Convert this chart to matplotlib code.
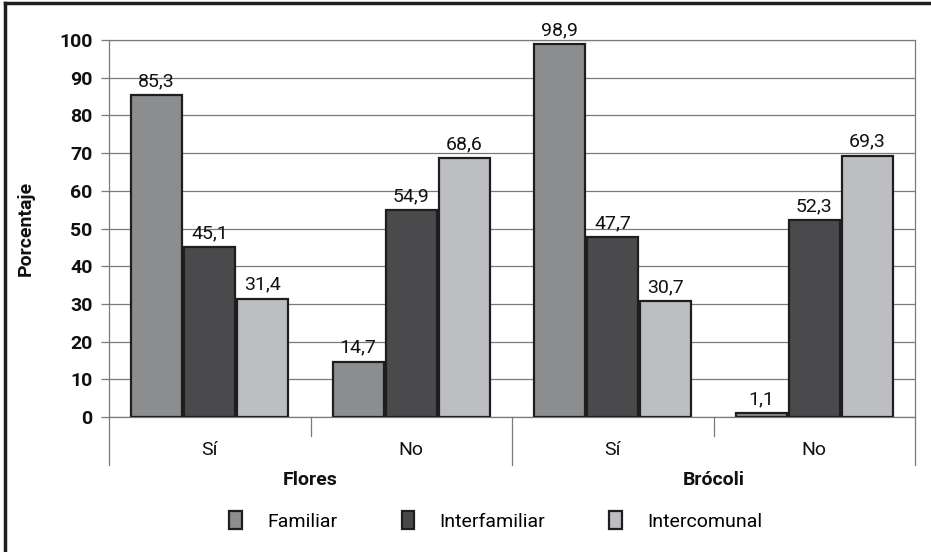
import matplotlib
matplotlib.use("Agg")
import matplotlib.pyplot as plt
from matplotlib.patches import Patch
from matplotlib.lines import Line2D
import numpy as np

subcats = ["Sí", "No", "Sí", "No"]
groups = ["Flores", "Brócoli"]
series = ["Familiar", "Interfamiliar", "Intercomunal"]
familiar = [85.3, 14.7, 98.9, 1.1]
interfamiliar = [45.1, 54.9, 47.7, 52.3]
intercomunal = [31.4, 68.6, 30.7, 69.3]
yticks = [0, 10, 20, 30, 40, 50, 60, 70, 80, 90, 100]

colors = ["#8c8d8f", "#4a4a4c", "#bdbec1"]
edge = "#1e1e1e"

plt.rcParams['font.family'] = ['Roboto', 'DejaVu Sans']

FS = 14
W, H = 931, 552
fig = plt.figure(figsize=(W / 100, H / 100), dpi=100)
ax = fig.add_axes([109 / W, 1 - 417 / H, (915 - 109) / W, (417 - 40) / H])

x = np.arange(len(subcats)) + 0.5
bw = 51 / 201
off = 53 / 201
for i, (vals, c) in enumerate(zip([familiar, interfamiliar, intercomunal], colors)):
    pos = x + (i - 1) * off
    ax.bar(pos, vals, width=bw, color=c, edgecolor=edge, linewidth=1.6, zorder=3)
    for px, v in zip(pos, vals):
        ax.text(px, v + 1.3, f"{v:.1f}".replace(".", ","), ha="center", va="bottom",
                fontsize=FS, color="#111111", zorder=4)

ax.set_xlim(0, len(subcats))
ax.set_ylim(0, 100)
ax.set_yticks(yticks)
ax.set_yticklabels([str(t) for t in yticks], fontsize=FS, fontweight="bold", color="#111111")
ax.yaxis.grid(True, color="#7a7a7a", linewidth=0.9, zorder=0)
ax.set_axisbelow(True)
ax.tick_params(axis="y", length=6, width=0.9, color="#7a7a7a", pad=6)
ax.set_xticks([])
for s in ["top", "right"]:
    ax.spines[s].set_visible(False)
ax.spines["left"].set_color("#7a7a7a")
ax.spines["left"].set_linewidth(0.9)
ax.spines["bottom"].set_color("#7a7a7a")
ax.spines["bottom"].set_linewidth(0.9)
ax.set_ylabel("Porcentaje", fontsize=FS, fontweight="bold", color="#111111")
ax.yaxis.set_label_coords(-0.092, 0.5)

ax.plot([4, 4], [0, 1], transform=ax.get_xaxis_transform(), color="#7a7a7a", lw=0.9, clip_on=False)
ax.plot([0, 4], [1, 1], transform=ax.get_xaxis_transform(), color="#7a7a7a", lw=0.9, clip_on=False)

trans = ax.get_xaxis_transform()
for xs in [0, 2, 4]:
    ax.plot([xs, xs], [0, -0.127], transform=trans, color="#7a7a7a", lw=0.9, clip_on=False)
for xs in [1, 3]:
    ax.plot([xs, xs], [0, -0.05], transform=trans, color="#7a7a7a", lw=0.9, clip_on=False)

for xi, lab in zip(x, subcats):
    ax.text(xi, -0.088, lab, transform=trans, ha="center", va="center", fontsize=FS, color="#111111")
for gi, g in enumerate(groups):
    ax.text(1 + 2 * gi, -0.167, g, transform=trans, ha="center", va="center",
            fontsize=FS, fontweight="bold", color="#111111")

handles = [Patch(facecolor=c, edgecolor=edge, linewidth=1.6) for c in colors]
fig.legend(handles, series, loc="center", bbox_to_anchor=(496 / W, 1 - 521 / H), ncol=3,
           frameon=False, fontsize=FS, handlelength=0.65, handleheight=1.0,
           columnspacing=3.3, handletextpad=1.3)

fig.add_artist(Line2D([5 / W, 5 / W], [0, 1 - 3 / H], transform=fig.transFigure, color="#1e1e1e", lw=2.5))
fig.add_artist(Line2D([5 / W, 1], [1 - 3 / H, 1 - 3 / H], transform=fig.transFigure, color="#1e1e1e", lw=2.5))

fig.savefig("out.png", dpi=100, facecolor="white")
